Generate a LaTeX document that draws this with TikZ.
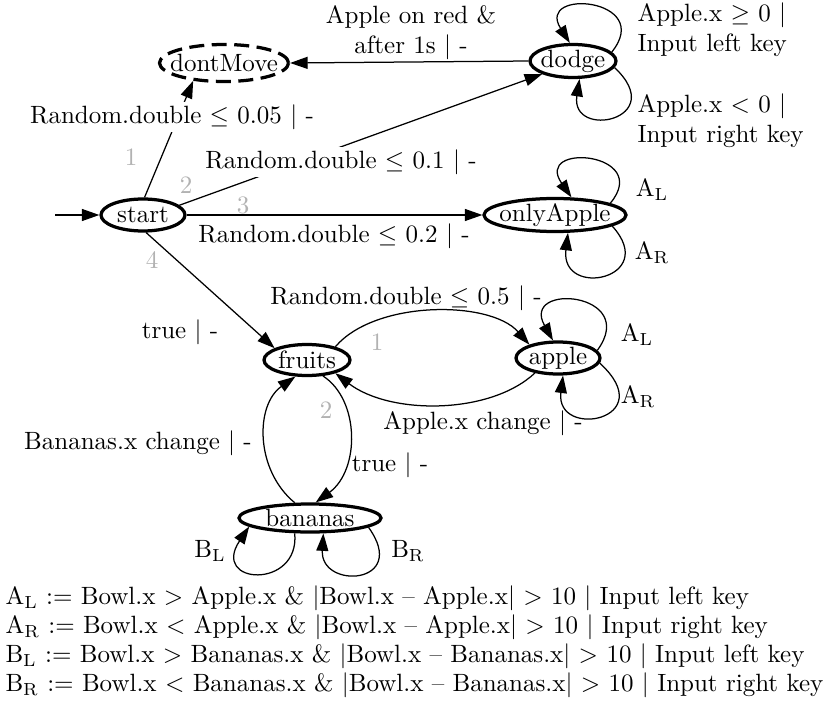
\documentclass[tikz,border=0pt]{standalone}
\usetikzlibrary{arrows.meta,shapes.geometric}
\begin{document}
\begin{tikzpicture}[x=0.4pt,y=-0.4pt,
  state/.style={ellipse, draw, line width=1.3pt, inner sep=0pt},
  edge/.style={-{Triangle[length=7pt,width=4.8pt]}, line width=0.5pt},
  lbl/.style={fill=white, inner sep=1pt},
  num/.style={text=black!30, inner sep=0pt},
  plain/.style={inner sep=0pt},
]
\useasboundingbox (0,0) rectangle (831,705);
% states
\node[state, dash pattern=on 6pt off 3pt, minimum width={129*0.4pt}, minimum height={37*0.4pt}] (dontMove) at (224,63) {\makebox[0pt]{dontMove}};
\node[state, minimum width={86*0.4pt}, minimum height={33*0.4pt}] (dodge) at (573,61) {\makebox[0pt]{dodge}};
\node[state, minimum width={84*0.4pt}, minimum height={32*0.4pt}] (start) at (143,215) {\makebox[0pt]{start}};
\node[state, minimum width={142*0.4pt}, minimum height={33*0.4pt}] (onlyApple) at (555,215) {\makebox[0pt]{onlyApple}};
\node[state, minimum width={86*0.4pt}, minimum height={31*0.4pt}] (fruits) at (307,360) {\makebox[0pt]{fruits}};
\node[state, minimum width={84*0.4pt}, minimum height={32*0.4pt}] (apple) at (558,358) {\makebox[0pt]{apple}};
\node[state, minimum width={142*0.4pt}, minimum height={28*0.4pt}] (bananas) at (310,518) {\makebox[0pt]{bananas}};
\coordinate (init) at (55,215);
% edges
\draw[edge] (init) -- (start);
\draw[edge] (start.85) -- (dontMove.210);
\node[lbl] (l1) at (172,117) {Random.double $\leq$ 0.05 $|$ -};
\node[num] (n1) at (131,157) {1};
\draw[edge] (start.15) -- (dodge.203);
\node[lbl] (l2) at (341,162) {Random.double $\leq$ 0.1 $|$ -};
\node[num] (n2) at (186,185) {2};
\draw[edge] (start.east) -- (onlyApple.west);
\node[plain] (l3) at (334,236) {Random.double $\leq$ 0.2 $|$ -};
\node[num] (n3) at (243,205) {3};
\draw[edge] (start.-80) -- (fruits.160);
\node[plain] (l4) at (180,332) {true $|$ -};
\node[num] (n4) at (152,260) {4};
\draw[edge] (dodge.west) -- (dontMove.east);
\node[plain, align=center] (l5) at (411,33) {Apple on red \&\\after 1s $|$ -};
% dodge loops
\draw[edge] (dodge.13) .. controls (655,-2) and (535,-12) .. (dodge.100);
\node[plain, anchor=west, align=left] (l6) at (637,30) {Apple.x $\geq$ 0 $|$\\Input left key};
\draw[edge] (dodge.-9) .. controls (670,120) and (570,140) .. (dodge.-70);
\node[plain, anchor=west, align=left] (l7) at (637,121) {Apple.x $<$ 0 $|$\\Input right key};
% onlyApple loops
\draw[edge] (onlyApple.12) .. controls (653,152) and (533,142) .. (onlyApple.47);
\node[plain] (l8) at (652,190) {$\mathrm{A_L}$};
\draw[edge] (onlyApple.-11) .. controls (660,279) and (560,299) .. (onlyApple.-54);
\node[plain] (l9) at (652,253) {$\mathrm{A_R}$};
% fruits <-> apple
\draw[edge] (fruits.25) .. controls (375,300) and (490,300) .. (apple.155);
\node[plain] (l10) at (406,298) {Random.double $\leq$ 0.5 $|$ -};
\node[num] (n5) at (377,342) {1};
\draw[edge] (apple.-147) .. controls (490,415) and (390,415) .. (fruits.-25);
\node[plain] (l11) at (483,423) {Apple.x change $|$ -};
% apple loops
\draw[edge] (apple.11) .. controls (640,292) and (520,282) .. (apple.106);
\node[plain] (l12) at (637,335) {$\mathrm{A_L}$};
\draw[edge] (apple.-7) .. controls (662,420) and (555,440) .. (apple.-74);
\node[plain] (l13) at (638,397) {$\mathrm{A_R}$};
% fruits <-> bananas
\draw[edge] (fruits.-45) .. controls (360,400) and (360,470) .. (bananas.70);
\node[plain] (l14) at (390,465) {true $|$ -};
\node[num] (n6) at (326,410) {2};
\draw[edge] (bananas.135) .. controls (255,470) and (255,405) .. (fruits.-125);
\node[plain] (l15) at (138,443) {Bananas.x change $|$ -};
% bananas loops
\draw[edge] (bananas.-135) .. controls (300,590) and (210,585) .. (bananas.188);
\node[plain] (l16) at (210,551) {$\mathrm{B_L}$};
\draw[edge] (bananas.-9) .. controls (410,585) and (320,590) .. (bananas.-49);
\node[plain] (l17) at (408,551) {$\mathrm{B_R}$};
% legend
\node[plain, anchor=west] (g1) at (5,598) {$\mathrm{A_L}$ := Bowl.x $>$ Apple.x \& $|$Bowl.x -- Apple.x$|$ $>$ 10 $|$ Input left key};
\node[plain, anchor=west] (g2) at (5,627) {$\mathrm{A_R}$ := Bowl.x $<$ Apple.x \& $|$Bowl.x -- Apple.x$|$ $>$ 10 $|$ Input right key};
\node[plain, anchor=west] (g3) at (5,656) {$\mathrm{B_L}$ := Bowl.x $>$ Bananas.x \& $|$Bowl.x -- Bananas.x$|$ $>$ 10 $|$ Input left key};
\node[plain, anchor=west] (g4) at (5,685) {$\mathrm{B_R}$ := Bowl.x $<$ Bananas.x \& $|$Bowl.x -- Bananas.x$|$ $>$ 10 $|$ Input right key};
\end{tikzpicture}
\end{document}
